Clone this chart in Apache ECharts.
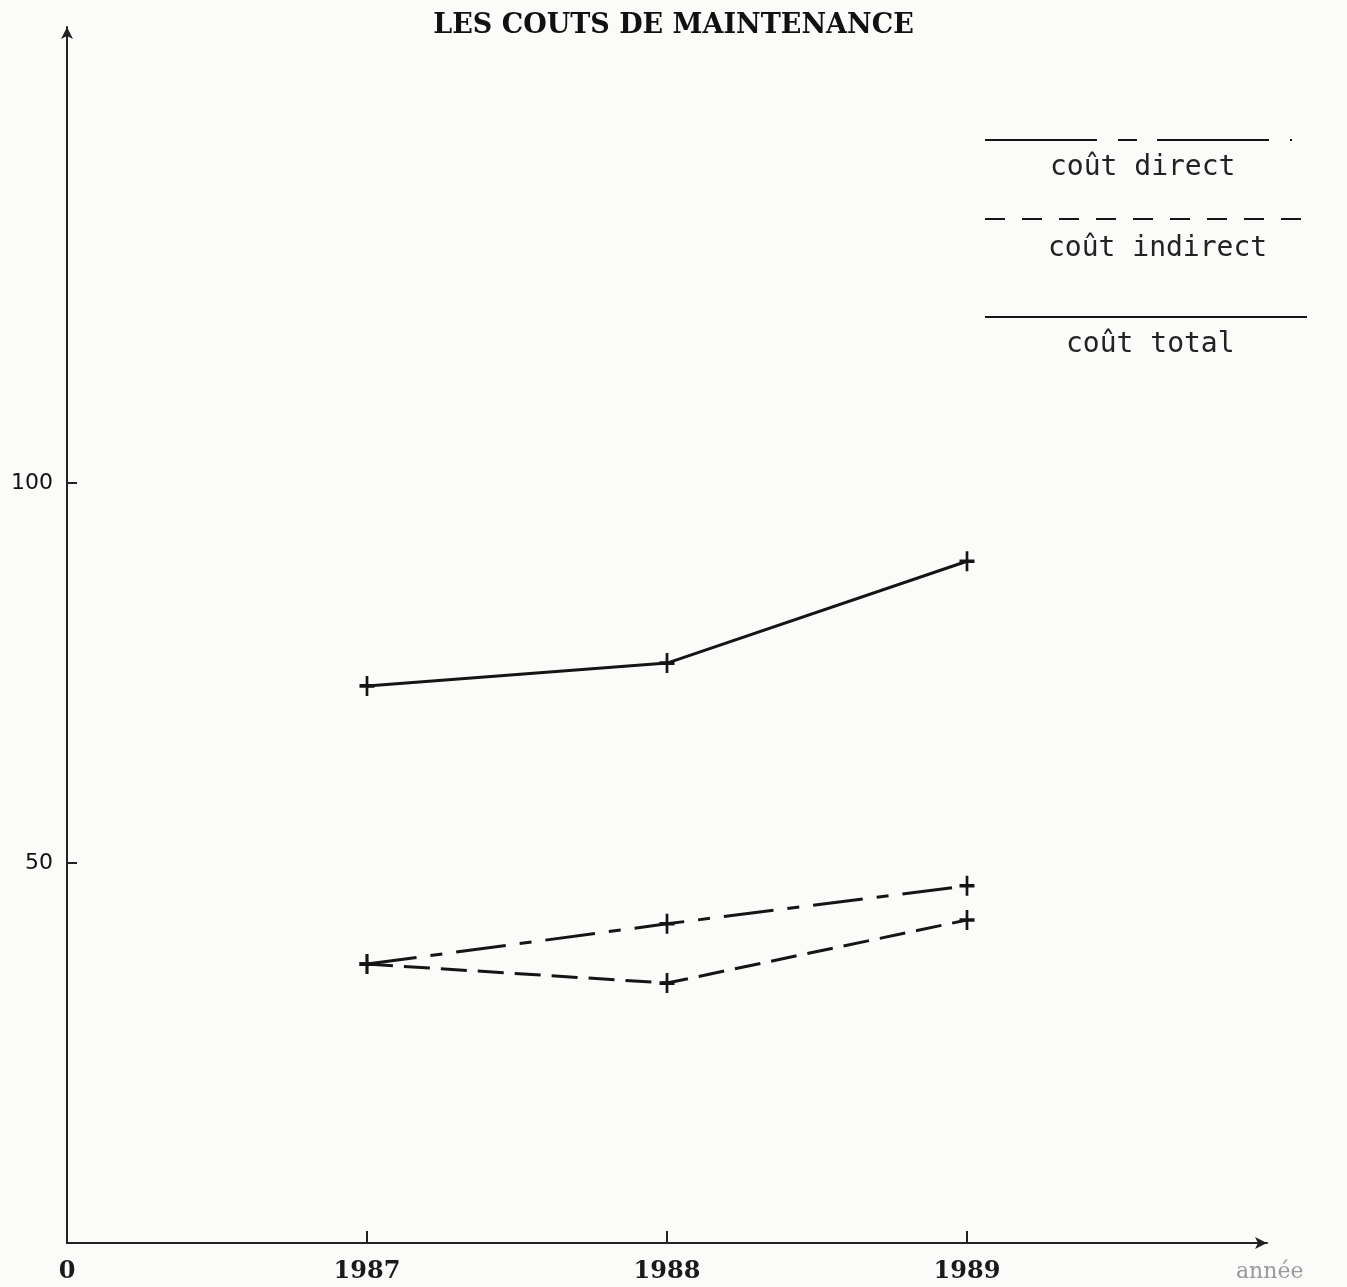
<!DOCTYPE html>
<html>
<head>
<meta charset="utf-8">
<script src="https://cdn.jsdelivr.net/npm/echarts@6/dist/echarts.min.js"></script>
<style>
  html, body { margin: 0; padding: 0; background: #fbfbfa; }
  #chart { width: 1347px; height: 1287px; }
</style>
</head>
<body>
<div id="chart"></div>
<script>
// années et coûts
const years = [1987, 1988, 1989];
const coutDirect = [36.7, 42.0, 47.0];
const coutIndirect = [36.7, 34.2, 42.5];
const coutTotal = [73.3, 76.3, 89.7];
const yTicks = [50, 100];
const xLabels = [1986, 1987, 1988, 1989];

const plus = 'path://M-1.8,-10 L1.8,-10 L1.8,-1.8 L10,-1.8 L10,1.8 L1.8,1.8 L1.8,10 L-1.8,10 L-1.8,1.8 L-10,1.8 L-10,-1.8 L-1.8,-1.8 Z';
const ink = '#151515';

function pts(vals) {
  return years.map((y, i) => [y, vals[i]]);
}

function serie(name, vals, dash) {
  return {
    name: name,
    type: 'line',
    data: pts(vals),
    symbol: plus,
    symbolSize: [15, 20],
    itemStyle: { color: ink },
    lineStyle: { color: ink, width: 3, type: dash },
    animation: false
  };
}

const chart = echarts.init(document.getElementById('chart'));
chart.setOption({
  backgroundColor: '#fbfbfa',
  title: {
    text: 'LES COUTS DE MAINTENANCE',
    left: 'center',
    top: 7,
    textStyle: { fontFamily: 'DejaVu Serif', fontWeight: 'bold', fontSize: 27, color: '#111' }
  },
  grid: { left: 67, right: 80, top: 27, bottom: 44 },
  xAxis: {
    type: 'value',
    min: 1986, max: 1990, interval: 1,
    axisLine: { lineStyle: { color: '#222', width: 2 }, symbol: ['none', 'arrow'], symbolSize: [9, 12] },
    axisTick: { customValues: years, inside: true, length: 12, lineStyle: { color: '#222', width: 2 } },
    axisLabel: {
      customValues: xLabels,
      margin: 17,
      fontFamily: 'DejaVu Serif', fontWeight: 'bold', fontSize: 24, color: '#1a1a1a',
      formatter: v => (v === 1986 ? '0' : String(v))
    },
    splitLine: { show: false }
  },
  yAxis: {
    type: 'value',
    min: 0, max: 160,
    axisLine: { show: true, lineStyle: { color: '#222', width: 2 }, symbol: ['none', 'arrow'], symbolSize: [9, 12] },
    axisTick: { show: true, customValues: yTicks, inside: true, length: 10, lineStyle: { color: '#222', width: 2 } },
    axisLabel: { customValues: yTicks, margin: 14, fontFamily: 'DejaVu Sans', fontSize: 22, color: '#111' },
    splitLine: { show: false }
  },
  series: [
    serie('coût direct', coutDirect, [50, 14, 12, 14]),
    serie('coût indirect', coutIndirect, [26, 11]),
    serie('coût total', coutTotal, 'solid')
  ],
  graphic: [
    { type: 'line', shape: { x1: 985, y1: 140, x2: 1292, y2: 140 }, style: { stroke: ink, lineWidth: 2, lineDash: [112, 21, 19, 20] } },
    { type: 'text', left: 1050, top: 154, style: { text: 'coût direct', font: '28px "DejaVu Sans Mono"', fill: '#222' } },
    { type: 'line', shape: { x1: 985, y1: 219, x2: 1307, y2: 219 }, style: { stroke: ink, lineWidth: 2, lineDash: [20, 17] } },
    { type: 'text', left: 1048, top: 235, style: { text: 'coût indirect', font: '28px "DejaVu Sans Mono"', fill: '#222' } },
    { type: 'line', shape: { x1: 985, y1: 317, x2: 1307, y2: 317 }, style: { stroke: ink, lineWidth: 2 } },
    { type: 'text', left: 1066, top: 331, style: { text: 'coût total', font: '28px "DejaVu Sans Mono"', fill: '#222' } },
    { type: 'text', left: 1236, top: 1261, style: { text: 'année', font: '22px "DejaVu Serif"', fill: '#9a9a9a' } }
  ]
});
</script>
</body>
</html>
